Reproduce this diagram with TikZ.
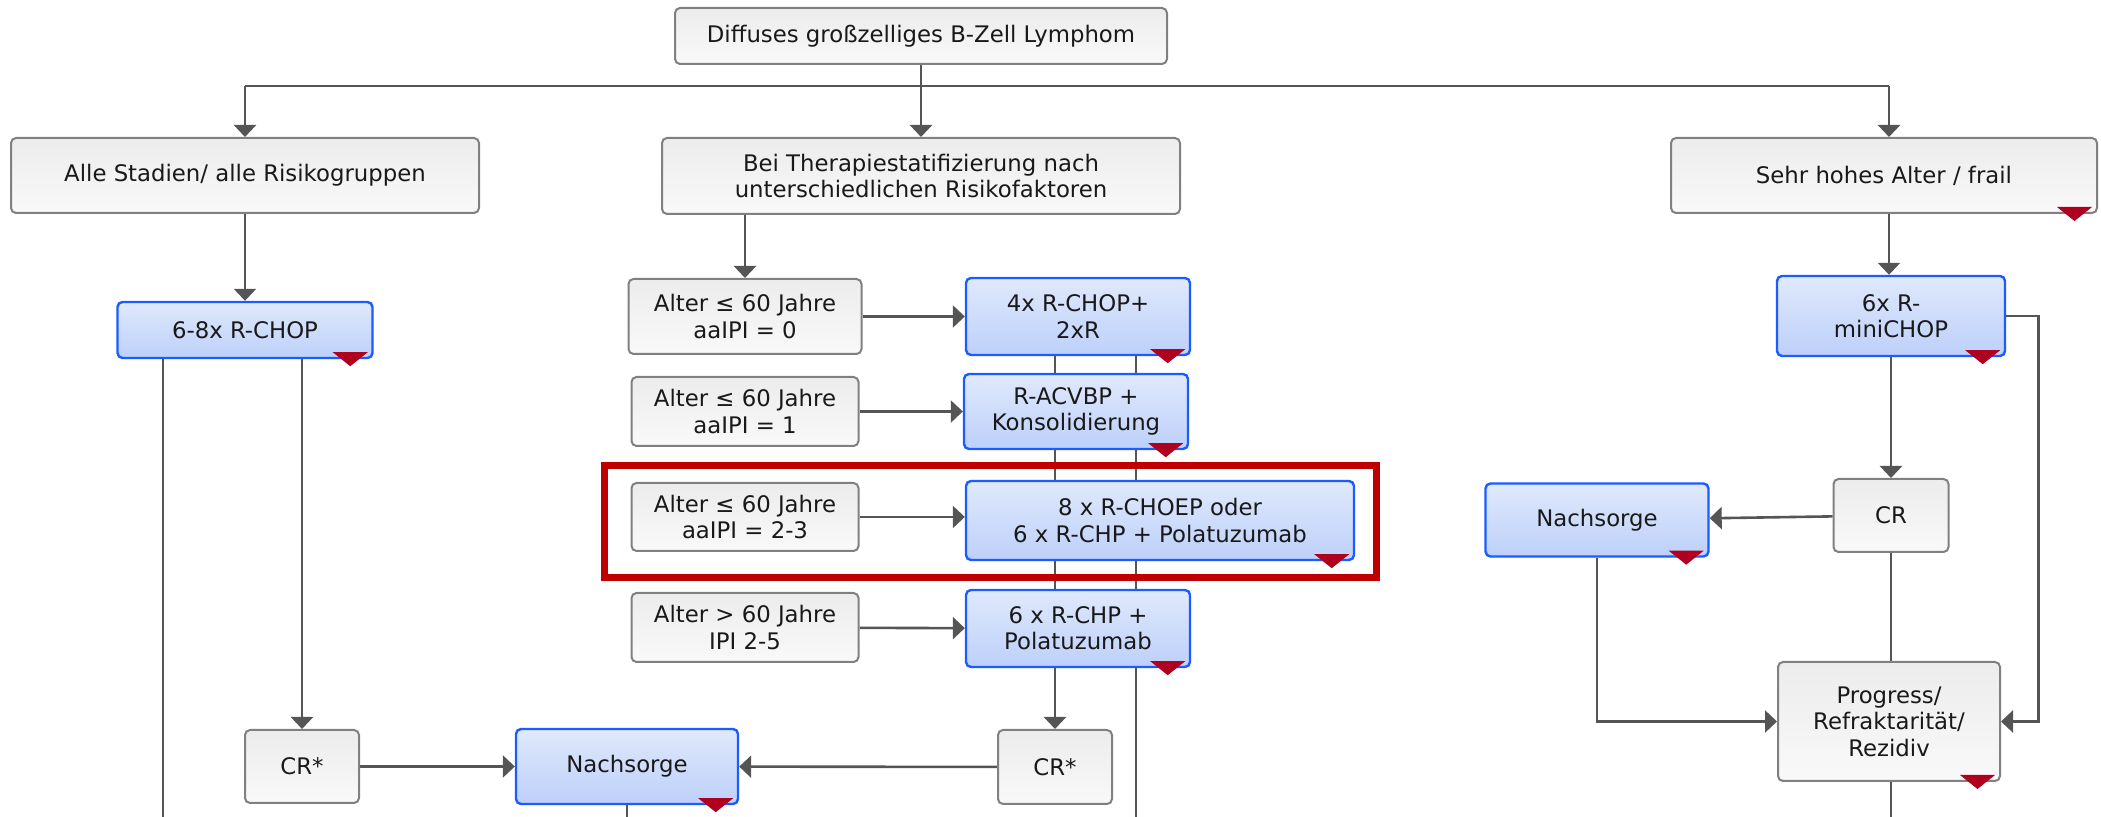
\documentclass[tikz,border=0pt]{standalone}
\usepackage{fontspec}
\setmainfont{DejaVu Sans}
\usetikzlibrary{arrows.meta,backgrounds}
\definecolor{lineGray}{RGB}{85,85,85}
\definecolor{boxGray}{RGB}{128,128,128}
\definecolor{grayTop}{RGB}{236,236,236}
\definecolor{grayBot}{RGB}{249,249,249}
\definecolor{boxBlue}{RGB}{26,92,255}
\definecolor{blueTop}{RGB}{224,233,252}
\definecolor{blueBot}{RGB}{189,208,250}
\definecolor{flagRed}{RGB}{176,0,32}
\definecolor{hlRed}{RGB}{192,0,0}

% small red marker at the lower right corner of a box
\newcommand{\flag}[1]{\fill[flagRed] ([shift={(-6,-7)}]#1.south east) -- ++(-35,0) -- ++(17.5,14) -- cycle;}

\begin{document}
\begin{tikzpicture}[x=0.5pt, y=-0.5pt,
    sz/.style 2 args={minimum width=#1*0.5pt, minimum height=#2*0.5pt},
    gbox/.style={draw=boxGray, line width=1pt, rounded corners=2.5pt, top color=grayTop, bottom color=grayBot,
      align=center, inner sep=2pt, text=black!90, font=\fontsize{11.4}{13.2}\selectfont},
    bbox/.style={gbox, draw=boxBlue, line width=1.2pt, top color=blueTop, bottom color=blueBot},
    line/.style={draw=lineGray, line width=1.3pt},
    arr/.style={line, -{Triangle[width=11pt,length=6pt]}}]
  \useasboundingbox (0,0) rectangle (2101,817);

  \node[gbox, sz={492}{56}] (root) at (921,36) {Diffuses großzelliges B-Zell Lymphom};
  \node[gbox, sz={468}{75}] (all) at (245,175.5) {Alle Stadien/ alle Risikogruppen};
  \node[gbox, sz={518}{76}] (strat) at (921,176) {Bei Therapiestatifizierung nach\\unterschiedlichen Risikofaktoren};
  \node[gbox, sz={426}{75}] (frail) at (1884,175.5) {Sehr hohes Alter / frail};

  % left column
  \node[bbox, sz={255}{56}] (rchop) at (245,330) {6-8x R-CHOP};
  \node[gbox, sz={114}{73}] (crl) at (302,766.5) {CR*};
  \node[bbox, sz={222}{75}] (nachl) at (627,766.5) {Nachsorge};

  % middle column
  \node[gbox, sz={233}{75}] (a0) at (745,316.5) {Alter ≤ 60 Jahre\\aaIPI = 0};
  \node[bbox, sz={224}{77}] (t0) at (1078,316.5) {4x R-CHOP+\\2xR};
  \node[gbox, sz={227}{69}] (a1) at (745,411.5) {Alter ≤ 60 Jahre\\aaIPI = 1};
  \node[bbox, sz={224}{75}] (t1) at (1076,411.5) {R-ACVBP +\\Konsolidierung};
  \node[gbox, sz={227}{68}] (a2) at (745,517) {Alter ≤ 60 Jahre\\aaIPI = 2-3};
  \node[bbox, sz={388}{79}] (t2) at (1160,520.5) {8 x R-CHOEP oder\\6 x R-CHP + Polatuzumab};
  \node[gbox, sz={227}{69}] (a3) at (745,627.5) {Alter > 60 Jahre\\IPI 2-5};
  \node[bbox, sz={224}{77}] (t3) at (1078,628.5) {6 x R-CHP +\\Polatuzumab};
  \node[gbox, sz={114}{74}] (crm) at (1055,767) {CR*};

  % right column
  \node[bbox, sz={228}{80}] (mini) at (1891,316) {6x R-\\miniCHOP};
  \node[gbox, sz={115}{73}] (cr) at (1891,515.5) {CR};
  \node[bbox, sz={223}{73}] (nachr) at (1597,520) {Nachsorge};
  \node[gbox, sz={222}{119}] (prog) at (1889,721.5) {Progress/\\Refraktarität/\\Rezidiv};

  \coordinate (busL) at (245,86);
  \coordinate (busR) at (1889,86);
  \coordinate (endL) at (163,817);
  \coordinate (endM) at (627,817);
  \coordinate (endR) at (1136,817);
  \coordinate (endP) at (1891,817);

  \begin{scope}[on background layer]
    \draw[arr] (root) -- (strat);
    \draw[line] (busL) -- (busR);
    \draw[arr] (busL) -- (all.north);
    \draw[arr] (busR) -- (busR |- frail.north);
    \draw[arr] (all) -- (rchop);
    \draw[line] (rchop.south -| endL) -- (endL);
    \draw[arr] (rchop.south -| crl) -- (crl.north);
    \draw[arr] (crl) -- (nachl);
    \draw[arr] (crm) -- (nachl);
    \draw[line] (nachl) -- (endM);
    \draw[arr] (strat.south -| a0) -- (a0.north);
    \draw[arr] (a0) -- (t0);
    \draw[arr] (a1) -- (t1);
    \draw[arr] (a2.east) -- (a2.east -| t2.west);
    \draw[arr] (a3) -- (t3);
    \draw[arr] (t0.south -| crm) -- (crm.north);
    \draw[line] (t0.south -| endR) -- (endR);
    \draw[arr] (busR |- frail.south) -- (busR |- mini.north);
    \draw[arr] (mini) -- (cr);
    \draw[arr] (mini.east) -- ++(32,0) |- (prog.east);
    \draw[arr] (cr) -- (nachr);
    \draw[line] (cr) -- (cr |- prog.north);
    \draw[arr] (nachr.south) |- (prog.west);
    \draw[line] (prog.south -| endP) -- (endP);
  \end{scope}

  \flag{frail} \flag{rchop} \flag{nachl} \flag{t0} \flag{t1} \flag{t2} \flag{t3}
  \flag{mini} \flag{nachr} \flag{prog}

  \draw[hlRed, line width=3.5pt] (604,466) rectangle (1376,578);
\end{tikzpicture}
\end{document}
